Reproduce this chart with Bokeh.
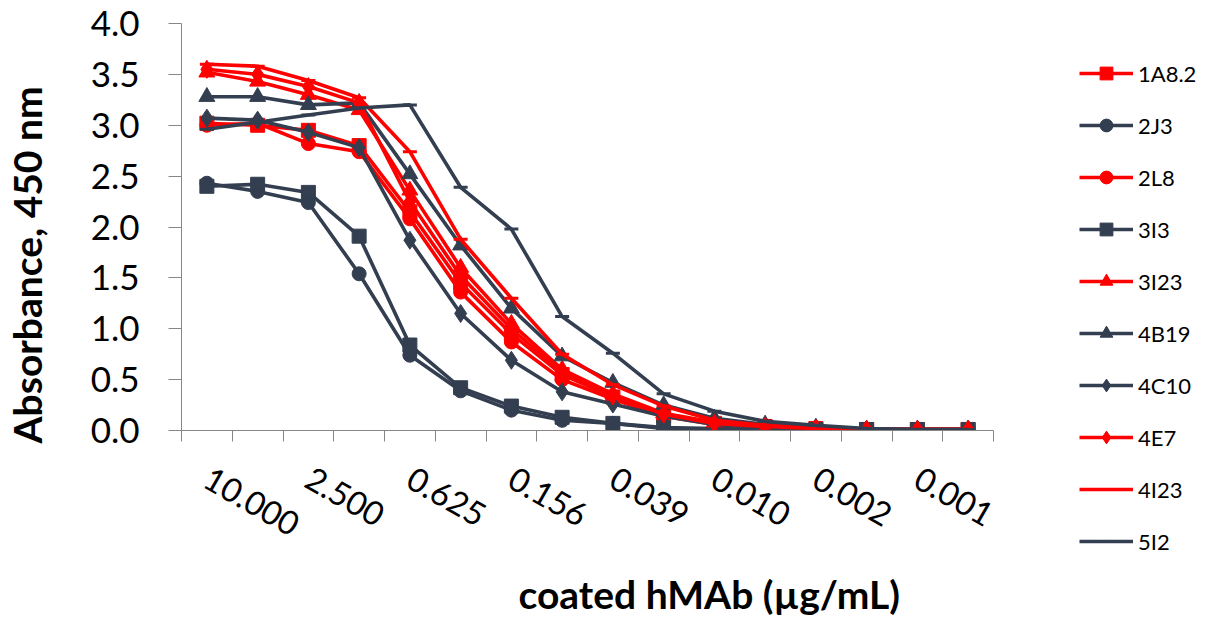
import numpy as np
from bokeh.plotting import figure
from bokeh.models import FixedTicker, Legend, LegendItem, Range1d, Title
from bokeh.embed import file_html
from bokeh.resources import INLINE

# ---- data ----
concentrations = ["10.000", "5.000", "2.500", "1.250", "0.625", "0.313", "0.156", "0.078",
                  "0.039", "0.020", "0.010", "0.005", "0.002", "0.001", "0.001", "0.000"]
labeled_idx = [0, 2, 4, 6, 8, 10, 12, 14]

series_names = ["1A8.2", "2J3", "2L8", "3I3", "3I23", "4B19", "4C10", "4E7", "4I23", "5I2"]

s_1A8_2 = [3.02, 3.00, 2.95, 2.80, 2.15, 1.45, 0.95, 0.55, 0.33, 0.15, 0.07, 0.04, 0.02, 0.01, 0.01, 0.01]
s_2J3   = [2.43, 2.35, 2.24, 1.54, 0.74, 0.39, 0.20, 0.10, 0.07, 0.02, 0.01, 0.01, 0.01, 0.01, 0.01, 0.01]
s_2L8   = [3.00, 3.02, 2.82, 2.74, 2.08, 1.36, 0.87, 0.50, 0.31, 0.14, 0.06, 0.03, 0.02, 0.01, 0.01, 0.01]
s_3I3   = [2.40, 2.42, 2.34, 1.91, 0.84, 0.42, 0.24, 0.13, 0.07, 0.03, 0.02, 0.01, 0.01, 0.01, 0.01, 0.01]
s_3I23  = [3.52, 3.43, 3.30, 3.15, 2.36, 1.60, 1.05, 0.60, 0.36, 0.17, 0.08, 0.04, 0.02, 0.01, 0.01, 0.01]
s_4B19  = [3.28, 3.28, 3.20, 3.22, 2.52, 1.82, 1.20, 0.73, 0.47, 0.25, 0.12, 0.06, 0.03, 0.01, 0.01, 0.01]
s_4C10  = [3.07, 3.05, 2.93, 2.78, 1.87, 1.15, 0.69, 0.38, 0.26, 0.14, 0.06, 0.03, 0.02, 0.01, 0.01, 0.01]
s_4E7   = [3.55, 3.50, 3.38, 3.22, 2.25, 1.52, 1.00, 0.57, 0.34, 0.16, 0.07, 0.04, 0.02, 0.01, 0.01, 0.01]
s_4I23  = [3.60, 3.58, 3.44, 3.27, 2.74, 1.88, 1.30, 0.75, 0.45, 0.24, 0.10, 0.05, 0.03, 0.01, 0.01, 0.01]
s_5I2   = [2.96, 3.03, 3.10, 3.17, 3.20, 2.39, 1.98, 1.12, 0.76, 0.36, 0.19, 0.09, 0.05, 0.02, 0.01, 0.01]

series_values = [s_1A8_2, s_2J3, s_2L8, s_3I3, s_3I23, s_4B19, s_4C10, s_4E7, s_4I23, s_5I2]

y_ticks = [0.0, 0.5, 1.0, 1.5, 2.0, 2.5, 3.0, 3.5, 4.0]
y_title = "Absorbance, 450 nm"
x_title = "coated hMAb (µg/mL)"

RED = "#FF0000"
DARK = "#333F50"
series_colors = [RED, DARK, RED, DARK, RED, DARK, DARK, RED, RED, DARK]
series_markers = ["square", "circle", "circle", "square", "triangle", "triangle",
                  "diamond", "diamond", "dash", "dash"]
marker_sizes = {"square": 14, "circle": 14, "triangle": 16, "diamond": 18, "dash": 14}

FONT = "Lato"
FL, FT = 180, 23          # left / top borders
FW, FH = 812, 407         # frame size
BR, BB = 208, 209         # right / bottom borders

p = figure(frame_width=FW, frame_height=FH, output_backend="svg", toolbar_location=None,
           x_range=Range1d(-0.5, len(concentrations) - 0.5), y_range=Range1d(0, 4.0),
           min_border_left=FL, min_border_right=BR, min_border_top=FT,
           min_border_bottom=BB)
p.outline_line_color = None
p.grid.visible = False

x = np.arange(len(concentrations))
items = []
for name, vals, col, mk in zip(series_names, series_values, series_colors, series_markers):
    ln = p.line(x, vals, line_color=col, line_width=3.6)
    if mk == "dash":
        sc = p.scatter(x, vals, marker=mk, size=marker_sizes[mk], line_color=col, line_width=3)
    else:
        sc = p.scatter(x, vals, marker=mk, size=marker_sizes[mk], fill_color=col, line_color=col)
    items.append(LegendItem(label=name, renderers=[ln, sc]))

# x axis
xa = p.xaxis[0]
xa.ticker = FixedTicker(ticks=[float(i) for i in labeled_idx],
                        minor_ticks=[i - 0.5 for i in range(len(concentrations) + 1)])
xa.major_label_overrides = {float(i): concentrations[i] for i in labeled_idx}
xa.major_tick_out = 0
xa.major_tick_in = 0
xa.minor_tick_out = 11
xa.minor_tick_in = 0
xa.axis_line_color = "#868686"
xa.minor_tick_line_color = "#868686"
xa.major_label_orientation = -0.52
xa.major_label_standoff = 34
xa.major_label_text_font = FONT
xa.major_label_text_font_size = "33px"
xa.major_label_text_color = "black"

# x axis title
p.add_layout(Title(text=x_title, align="left", offset=337, vertical_align="top",
                   standoff=40, text_font=FONT, text_font_style="bold",
                   text_font_size="39px", text_color="black"), "below")

# y axis
ya = p.yaxis[0]
ya.ticker = FixedTicker(ticks=y_ticks, minor_ticks=[])
ya.major_label_overrides = {v: f"{v:.1f}" for v in y_ticks}
ya.major_tick_out = 13
ya.major_tick_in = 0
ya.minor_tick_out = 0
ya.axis_line_color = "#868686"
ya.major_tick_line_color = "#868686"
ya.major_label_standoff = 29
ya.major_label_text_font = FONT
ya.major_label_text_font_size = "35px"
ya.major_label_text_color = "black"
ya.axis_label = y_title + "\u00a0" * 8
ya.axis_label_text_font = FONT
ya.axis_label_text_font_style = "bold"
ya.axis_label_text_font_size = "39px"
ya.axis_label_text_color = "black"
ya.axis_label_standoff = 38

legend = Legend(items=items, location=(86, -127), padding=0, margin=0,
                glyph_width=54, glyph_height=32, spacing=20, label_standoff=5,
                label_text_font=FONT, label_text_font_size="22px", label_text_color="black",
                border_line_alpha=0, background_fill_alpha=0)
p.add_layout(legend, "right")

open("out.html", "w").write(file_html(p, INLINE))
